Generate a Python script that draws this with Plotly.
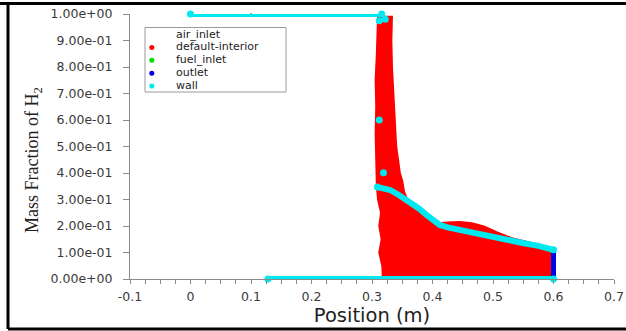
import plotly.graph_objects as go

# ---------------- data ----------------
x_tickvals = [-0.1, 0.0, 0.1, 0.2, 0.3, 0.4, 0.5, 0.6, 0.7]
x_ticktext = ["-0.1", "0", "0.1", "0.2", "0.3", "0.4", "0.5", "0.6", "0.7"]
y_tickvals = [0.0, 0.1, 0.2, 0.3, 0.4, 0.5, 0.6, 0.7, 0.8, 0.9, 1.0]
y_ticktext = ["0.00e+00", "1.00e-01", "2.00e-01", "3.00e-01", "4.00e-01", "5.00e-01",
              "6.00e-01", "7.00e-01", "8.00e-01", "9.00e-01", "1.00e+00"]

# default-interior: outline of the dense point cloud
interior_x = [0.318, 0.317, 0.312, 0.316, 0.312, 0.315, 0.310, 0.308, 0.307, 0.306, 0.307,
              0.306, 0.308, 0.310, 0.333, 0.332, 0.333, 0.335, 0.337, 0.340, 0.343, 0.346,
              0.350, 0.353, 0.358, 0.375, 0.395, 0.410, 0.425, 0.445, 0.465, 0.485, 0.505,
              0.530, 0.560, 0.590, 0.600, 0.600]
interior_y = [0.0, 0.05, 0.10, 0.15, 0.20, 0.25, 0.30, 0.35, 0.45, 0.55, 0.65,
              0.75, 0.85, 0.99, 0.99, 0.90, 0.80, 0.70, 0.60, 0.50, 0.45, 0.40,
              0.37, 0.33, 0.30, 0.27, 0.235, 0.21, 0.213, 0.215, 0.21, 0.198, 0.178,
              0.155, 0.138, 0.12, 0.11, 0.0]

# wall segments
wall_top_x = [0.0, 0.316]
wall_top_y = [1.0, 1.0]
wall_bottom_x = [0.128, 0.600]
wall_bottom_y = [0.0, 0.0]
wall_curve_x = [0.309, 0.320, 0.330, 0.345, 0.362, 0.378, 0.390, 0.402, 0.412, 0.425,
                0.445, 0.470, 0.494, 0.520, 0.549, 0.575, 0.594, 0.600]
wall_curve_y = [0.347, 0.344, 0.336, 0.316, 0.291, 0.265, 0.242, 0.222, 0.204, 0.195,
                0.185, 0.172, 0.158, 0.148, 0.136, 0.125, 0.115, 0.110]
wall_dots_x = [0.312, 0.322, 0.312, 0.319]
wall_dots_y = [0.975, 0.980, 0.600, 0.401]

# outlet
outlet_x = [0.600, 0.600]
outlet_y = [0.0, 0.105]

# inlets (hidden beneath the wall in the picture)
air_inlet_x = [0.2]
air_inlet_y = [0.0]
fuel_inlet_x = [0.1]
fuel_inlet_y = [1.0]

legend_names = ["air_inlet", "default-interior", "fuel_inlet", "outlet", "wall"]
legend_colors = ["#FFFFFF", "#FF0000", "#00E000", "#0000E6", "#00E8F0"]

# ---------------- figure ----------------
RED, BLUE, CYAN = "#FF0000", "#0000E6", "#00E8F0"
fig = go.Figure()

fig.add_trace(go.Scatter(x=air_inlet_x, y=air_inlet_y, mode="markers", name="air_inlet",
                         marker=dict(color="#FFFFFF", size=2), showlegend=False, cliponaxis=False))
fig.add_trace(go.Scatter(x=fuel_inlet_x, y=fuel_inlet_y, mode="markers", name="fuel_inlet",
                         marker=dict(color="#00E000", size=2), showlegend=False, cliponaxis=False))
fig.add_trace(go.Scatter(x=interior_x, y=interior_y, mode="lines", name="default-interior",
                         fill="toself", fillcolor=RED, line=dict(color=RED, width=2),
                         showlegend=False))
fig.add_trace(go.Scatter(x=outlet_x, y=outlet_y, mode="lines", name="outlet",
                         line=dict(color=BLUE, width=5), showlegend=False, cliponaxis=False))

wx = wall_top_x + [None] + wall_bottom_x + [None] + wall_curve_x
wy = wall_top_y + [None] + wall_bottom_y + [None] + wall_curve_y
fig.add_trace(go.Scatter(x=wx, y=wy, mode="lines", name="wall",
                         line=dict(color=CYAN, width=6), showlegend=False, cliponaxis=False))
ends_x = [wall_top_x[0], wall_top_x[-1], wall_bottom_x[0], wall_bottom_x[-1],
          wall_curve_x[0], wall_curve_x[-1]] + wall_dots_x
ends_y = [wall_top_y[0], wall_top_y[-1], wall_bottom_y[0], wall_bottom_y[-1],
          wall_curve_y[0], wall_curve_y[-1]] + wall_dots_y
fig.add_trace(go.Scatter(x=ends_x, y=ends_y, mode="markers", name="wall",
                         marker=dict(color=CYAN, size=7), showlegend=False, cliponaxis=False))

# ---------------- layout ----------------
L, R, T, B = 130, 12, 14, 52
W, H = 626, 331
PW, PH = W - L - R, H - T - B


def px(xp):
    return (xp - L) / PW


def py(yp):
    return (H - B - yp) / PH


TICKFONT = dict(family="DejaVu Sans", size=12.5, color="#3a3a3a")
fig.update_layout(
    width=W, height=H,
    margin=dict(l=L, r=R, t=T, b=B, autoexpand=False),
    paper_bgcolor="white", plot_bgcolor="white",
    showlegend=False,
    xaxis=dict(range=[-0.1, 0.7], showgrid=False, zeroline=False, automargin=False,
               showline=True, linecolor="#8a8a8a", linewidth=1,
               ticks="outside", ticklen=4, tickcolor="#8a8a8a",
               tickvals=x_tickvals, ticktext=x_ticktext, tickfont=TICKFONT,
               ticklabelstandoff=2,
               minor=dict(ticks="outside", ticklen=4, dtick=0.025, tick0=-0.1,
                          tickcolor="#8a8a8a", showgrid=False),
               title=dict(text="Position (m)",
                          font=dict(family="DejaVu Sans", size=19.5, color="#222"),
                          standoff=0)),
    yaxis=dict(range=[0, 1], showgrid=False, zeroline=False, automargin=False,
               showline=True, linecolor="#8a8a8a", linewidth=1,
               ticks="outside", ticklen=6, tickcolor="#8a8a8a",
               tickvals=y_tickvals, ticktext=y_ticktext, tickfont=TICKFONT,
               ticklabelstandoff=8),
)

# y-axis title (Times-like serif), placed like the original
fig.add_annotation(text="Mass Fraction of H<sub>2</sub>", textangle=-90,
                   xref="paper", yref="paper", x=px(33), y=py(160),
                   xanchor="center", yanchor="middle", showarrow=False,
                   font=dict(family="Liberation Serif", size=18, color="#222"))

# legend box (compact, like the original)
fig.add_shape(type="rect", xref="paper", yref="paper",
              x0=px(145), x1=px(286), y0=py(92.0), y1=py(27.5),
              line=dict(color="#9a9a9a", width=1), fillcolor="white", layer="above")
leg_y = [34.5, 47.4, 60.3, 73.2, 86.1]
for name, col, yy in zip(legend_names, legend_colors, leg_y):
    fig.add_annotation(text=name, xref="paper", yref="paper", x=px(175), y=py(yy - 0.5),
                       xanchor="left", yanchor="middle", showarrow=False,
                       font=dict(family="DejaVu Sans", size=11, color="#222"),
                       borderpad=0)
    if col != "#FFFFFF":
        fig.add_shape(type="circle", xref="paper", yref="paper",
                      x0=px(149.3), x1=px(154.3), y0=py(yy + 2.5), y1=py(yy - 2.5),
                      fillcolor=col, line=dict(color=col, width=0), layer="above")

# black frame around the image (top, left, bottom)
frame = dict(color="black", width=3)
fig.add_shape(type="line", xref="paper", yref="paper", x0=px(0), x1=px(W), y0=py(3.5), y1=py(3.5), line=frame)
fig.add_shape(type="line", xref="paper", yref="paper", x0=px(8), x1=px(8), y0=py(3.5), y1=py(329), line=frame)
fig.add_shape(type="line", xref="paper", yref="paper", x0=px(8), x1=px(W), y0=py(329), y1=py(329), line=frame)

fig.write_html("out.html")
